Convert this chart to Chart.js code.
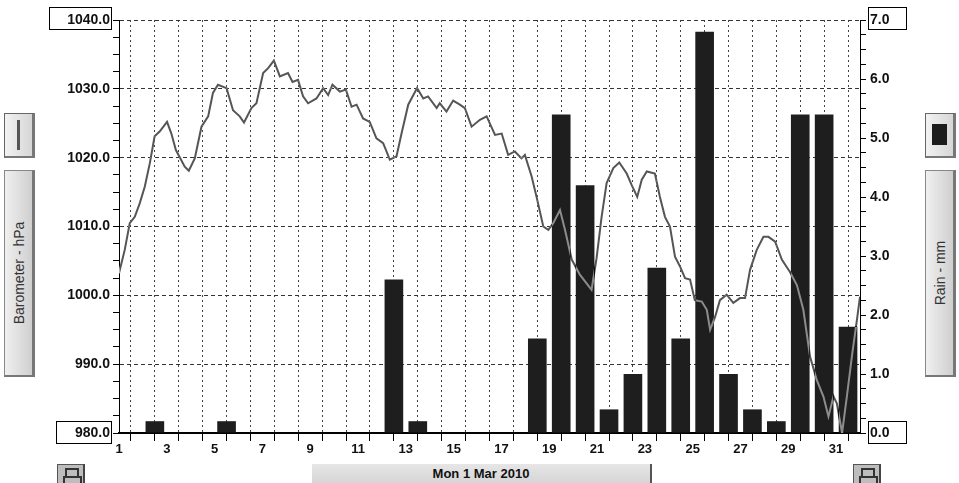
<!DOCTYPE html>
<html>
<head>
<meta charset="utf-8">
<script src="https://cdn.jsdelivr.net/npm/chart.js@4.4.1/dist/chart.umd.min.js"></script>
<style>
  html, body { margin: 0; padding: 0; background: #fff; }
  #wrap { position: absolute; left: 0; top: 0; width: 959px; height: 483px; overflow: hidden; }
  #chartBox { position: absolute; left: 0; top: 0; width: 959px; height: 483px; }
  .btn, .panel, .lock, .datebar { position: absolute; box-sizing: border-box; }
  .btn {
    width: 31px; height: 45px; top: 113px;
    background: linear-gradient(to right, #f2f2f2, #d6d6d6);
    border: 1px solid #666; border-right: 3px solid #777; border-bottom: 2px solid #777;
  }
  .panel {
    width: 31px; top: 170px; height: 207px;
    background: linear-gradient(to right, #f0f0f0, #cfcfcf);
    border: 1px solid #888; border-right: 3px solid #777; border-bottom: 2px solid #777;
  }
  .panel span {
    position: absolute; left: 50%; top: 50%;
    transform: translate(-50%, -50%) rotate(-90deg);
    white-space: nowrap; font: 14px "Liberation Sans", Arial, sans-serif; color: #333;
  }
  .lock {
    top: 464px; width: 28px; height: 22px;
    background: #bdbdbd; border: 1px solid #555; border-right: 2px solid #444;
  }
  .lock:before {
    content: ""; position: absolute; left: 7px; top: 3px; width: 10px; height: 8px;
    border: 2px solid #333; border-bottom: none;
  }
  .lock:after {
    content: ""; position: absolute; left: 5px; top: 11px; width: 15px; height: 10px;
    border: 2px solid #333; border-bottom: none;
  }
  .datebar {
    left: 312px; top: 464px; width: 340px; height: 22px;
    background: linear-gradient(to bottom, #e6e6e6, #d3d3d3);
    border-right: 2px solid #555;
    font: bold 13px "Liberation Sans", Arial, sans-serif; color: #111;
    text-align: center; line-height: 20px;
  }
</style>
</head>
<body>
<div id="wrap">
  <div id="chartBox"><canvas id="chart"></canvas></div>

  <div class="btn" style="left:4px;">
    <div style="position:absolute;left:12px;top:6px;width:3px;height:30px;background:#555;"></div>
  </div>
  <div class="panel" style="left:4px;"><span>Barometer - hPa</span></div>

  <div class="btn" style="left:925px;">
    <div style="position:absolute;left:6px;top:10px;width:15px;height:21px;background:#1c1c1c;"></div>
  </div>
  <div class="panel" style="left:925px;"><span>Rain - mm</span></div>

  <div class="lock" style="left:57px;"></div>
  <div class="datebar">Mon 1 Mar 2010</div>
  <div class="lock" style="left:853px;"></div>
</div>

<script>
// daily rain (mm), one value per day of March
const days = [1, 2, 3, 4, 5, 6, 7, 8, 9, 10, 11, 12, 13, 14, 15, 16,
  17, 18, 19, 20, 21, 22, 23, 24, 25, 26, 27, 28, 29, 30, 31];
const rainMm = [0, 0.2, 0, 0, 0.2, 0, 0, 0, 0, 0, 0, 2.6, 0.2, 0, 0, 0,
  0, 1.6, 5.4, 4.2, 0.4, 1.0, 2.8, 1.6, 6.8, 1.0, 0.4, 0.2, 5.4, 5.4, 1.8];

// barometer trace: time (day of month) and pressure (hPa)
const baroDay = [1.00, 1.24, 1.45, 1.66, 1.87, 2.08, 2.29, 2.49, 2.70, 3.01,
  3.19, 3.38, 3.75, 3.92, 4.17, 4.45, 4.73, 4.93, 5.14, 5.50,
  5.77, 6.05, 6.23, 6.54, 6.75, 7.03, 7.24, 7.48, 7.73, 8.07,
  8.26, 8.49, 8.70, 8.91, 9.26, 9.54, 9.75, 9.93, 10.24, 10.49,
  10.73, 10.94, 11.21, 11.49, 11.77, 12.05, 12.33, 12.61, 12.82, 13.10,
  13.47, 13.73, 13.93, 14.29, 14.42, 14.70, 14.98, 15.26, 15.47, 15.75,
  16.10, 16.38, 16.73, 17.01, 17.28, 17.56, 17.84, 17.98, 18.26, 18.47,
  18.75, 18.96, 19.17, 19.45, 19.66, 19.94, 20.28, 20.77, 20.98, 21.19,
  21.40, 21.68, 21.93, 22.24, 22.45, 22.68, 22.87, 23.08, 23.42, 23.63,
  23.84, 24.05, 24.26, 24.47, 24.68, 24.89, 25.09, 25.38, 25.59, 25.73,
  25.94, 26.14, 26.42, 26.70, 26.98, 27.19, 27.40, 27.68, 27.96, 28.17,
  28.45, 28.73, 29.07, 29.36, 29.63, 29.91, 30.19, 30.47, 30.68, 30.89,
  31.03, 31.25, 31.45, 31.66, 31.87, 32.00];
const baroHpa = [1003.2, 1006.6, 1010.5, 1011.4, 1013.4, 1015.8, 1019.2, 1023.1, 1023.8, 1025.2,
  1023.5, 1021.1, 1018.7, 1018.1, 1019.9, 1024.5, 1026.0, 1029.4, 1030.6, 1030.1,
  1026.9, 1026.0, 1025.1, 1027.2, 1027.9, 1032.3, 1033.0, 1034.1, 1031.8, 1032.3,
  1031.0, 1031.3, 1028.9, 1027.9, 1028.6, 1030.1, 1029.1, 1030.6, 1029.6, 1029.9,
  1027.4, 1027.7, 1025.7, 1025.2, 1022.8, 1022.1, 1019.7, 1020.2, 1023.5, 1027.7,
  1030.1, 1028.6, 1028.9, 1027.2, 1027.9, 1026.7, 1028.3, 1027.7, 1027.2, 1024.5,
  1025.5, 1026.0, 1023.3, 1023.5, 1020.4, 1020.9, 1019.9, 1020.4, 1017.3, 1014.3,
  1010.0, 1009.5, 1010.5, 1012.4, 1009.5, 1005.2, 1003.0, 1000.8, 1005.4, 1011.4,
  1016.3, 1018.5, 1019.3, 1017.7, 1016.0, 1014.3, 1016.8, 1018.0, 1017.7, 1014.3,
  1011.4, 1010.0, 1005.6, 1004.2, 1002.5, 1002.3, 999.3, 999.1, 997.9, 995.0,
  996.9, 999.3, 1000.1, 998.9, 999.6, 999.6, 1003.7, 1006.6, 1008.5, 1008.5,
  1007.8, 1005.2, 1003.4, 1001.5, 997.9, 991.1, 987.7, 985.3, 982.4, 985.3,
  984.3, 980.0, 985.3, 991.1, 996.4, 999.8];

// labelled ticks
const dayLabels = [1, 3, 5, 7, 9, 11, 13, 15, 17, 19, 21, 23, 25, 27, 29, 31];
const pressureLabels = [980, 990, 1000, 1010, 1020, 1030, 1040];
const rainLabels = [0, 1, 2, 3, 4, 5, 6, 7];

const tickFont = { family: 'Liberation Sans', weight: 'bold', size: 14 };

// white page behind the canvas so the inverted trace works
const whiteBg = {
  id: 'whiteBg',
  beforeDraw(chart) {
    const ctx = chart.ctx;
    ctx.save();
    ctx.fillStyle = '#fff';
    ctx.fillRect(0, 0, chart.width, chart.height);
    ctx.restore();
  }
};

// the trace is drawn inverted, so it shows light over the bars
const invertLine = {
  id: 'invertLine',
  beforeDatasetDraw(chart, args) {
    if (args.meta.type === 'line') {
      chart.ctx.save();
      chart.ctx.globalCompositeOperation = 'difference';
    }
  },
  afterDatasetDraw(chart, args) {
    if (args.meta.type === 'line') chart.ctx.restore();
  }
};

// boxes round the min/max labels of both axes
const endBoxes = {
  id: 'endBoxes',
  afterDraw(chart) {
    const ctx = chart.ctx;
    const y = chart.scales.y, r = chart.scales.y1;
    const top = y.getPixelForValue(y.max), bot = y.getPixelForValue(y.min);
    ctx.save();
    ctx.strokeStyle = '#000';
    ctx.lineWidth = 1;
    ctx.strokeRect(y.right - 69.5, top - 12.5, 62, 22);
    ctx.strokeRect(y.right - 62.5, bot - 11.5, 55, 22);
    ctx.strokeRect(r.left + 8.5, r.getPixelForValue(r.max) - 12.5, 38, 22);
    ctx.strokeRect(r.left + 8.5, r.getPixelForValue(r.min) - 11.5, 38, 22);
    ctx.restore();
  }
};

const ctx = document.getElementById('chart').getContext('2d');
new Chart(ctx, {
  data: {
    datasets: [
      {
        type: 'line',
        label: 'Barometer - hPa',
        data: baroDay.map((d, i) => ({ x: d, y: baroHpa[i] })),
        yAxisID: 'y',
        borderColor: '#aaaaaa',
        borderWidth: 2,
        pointRadius: 0,
        tension: 0,
        order: 0
      },
      {
        type: 'bar',
        label: 'Rain - mm',
        data: days.map((d, i) => ({ x: d + 0.5, y: rainMm[i] })),
        yAxisID: 'y1',
        backgroundColor: '#1e1e1e',
        borderColor: '#2a2a2a',
        borderWidth: 0,
        barPercentage: 0.78,
        categoryPercentage: 1.0,
        order: 1
      }
    ]
  },
  options: {
    responsive: true,
    maintainAspectRatio: false,
    animation: false,
    layout: { padding: { top: 20, left: 0, right: 0, bottom: 0 } },
    plugins: {
      legend: { display: false },
      tooltip: { enabled: false }
    },
    scales: {
      x: {
        type: 'linear',
        min: 1,
        max: 32,
        offset: false,
        afterFit: s => { s.height = 50; },
        ticks: {
          stepSize: 1,
          autoSkip: false,
          maxRotation: 0,
          padding: 1,
          color: '#111',
          font: { family: 'Liberation Sans', weight: 'bold', size: 13 },
          callback: v => dayLabels.includes(v) ? String(v) : ''
        },
        grid: {
          color: '#444',
          lineWidth: 1,
          tickColor: '#000',
          tickLength: 8,
          tickWidth: 1
        },
        border: { display: true, color: '#000', width: 2, dash: [2, 3] }
      },
      y: {
        position: 'left',
        min: 980,
        max: 1040,
        afterFit: s => { s.width = 119; },
        ticks: {
          stepSize: 2.5,
          autoSkip: false,
          padding: 3,
          color: '#111',
          font: tickFont,
          callback: v => pressureLabels.includes(v) ? v.toFixed(1) : ''
        },
        grid: {
          color: c => pressureLabels.includes(c.tick.value) ? '#333' : 'rgba(0,0,0,0)',
          lineWidth: 1,
          tickColor: '#000',
          tickLength: 6,
          tickWidth: 1
        },
        border: { display: true, color: '#000', width: 1, dash: [4, 3] }
      },
      y1: {
        position: 'right',
        min: 0,
        max: 7,
        afterFit: s => { s.width = 99; },
        ticks: {
          stepSize: 0.25,
          autoSkip: false,
          padding: 4,
          color: '#111',
          font: tickFont,
          callback: v => rainLabels.includes(v) ? v.toFixed(1) : ''
        },
        grid: {
          drawOnChartArea: false,
          tickColor: '#000',
          tickLength: 6,
          tickWidth: 1
        },
        border: { display: true, color: '#000', width: 1 }
      }
    }
  },
  plugins: [whiteBg, invertLine, endBoxes]
});
</script>
</body>
</html>
